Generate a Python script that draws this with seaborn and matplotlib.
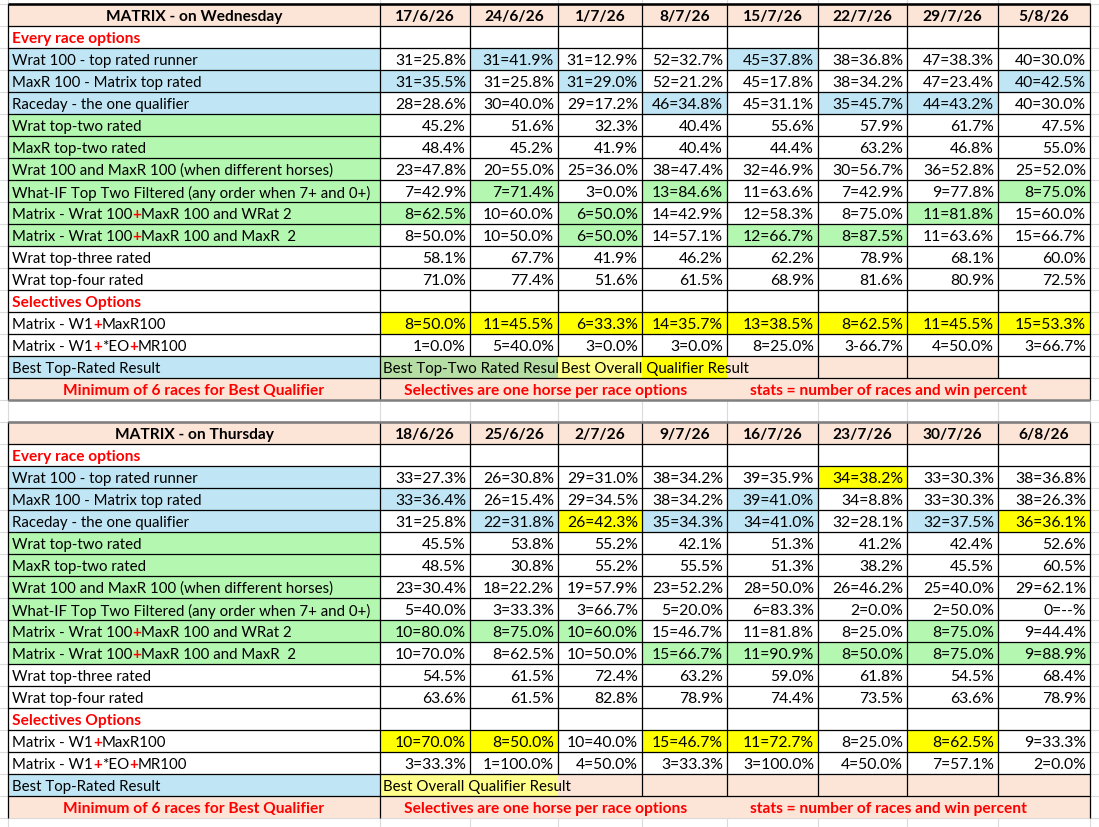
import numpy as np
import seaborn as sns
import matplotlib.pyplot as plt
from matplotlib.patches import Rectangle
from matplotlib.transforms import Bbox, TransformedBbox

# ---- data ----
wed_title = 'MATRIX - on Wednesday'
thu_title = 'MATRIX - on Thursday'
wed_dates = ['17/6/26', '24/6/26', '1/7/26', '8/7/26', '15/7/26', '22/7/26', '29/7/26', '5/8/26']
thu_dates = ['18/6/26', '25/6/26', '2/7/26', '9/7/26', '16/7/26', '23/7/26', '30/7/26', '6/8/26']

row_labels = [
    'Every race options',
    'Wrat 100 - top rated runner',
    'MaxR 100 - Matrix top rated',
    'Raceday - the one qualifier',
    'Wrat top-two rated',
    'MaxR top-two rated',
    'Wrat 100 and MaxR 100 (when different horses)',
    'What-IF Top Two Filtered (any order when 7+ and 0+)',
    'Matrix - Wrat 100+MaxR 100 and WRat 2',
    'Matrix - Wrat 100+MaxR 100 and MaxR  2',
    'Wrat top-three rated',
    'Wrat top-four rated',
    'Selectives Options',
    'Matrix - W1+MaxR100',
    'Matrix - W1+*EO+MR100',
    'Best Top-Rated Result',
]
footer_texts = ['Minimum of 6 races for Best Qualifier',
                'Selectives are one horse per race options',
                'stats = number of races and win percent']

wed_wrat100 = ['31=25.8%', '31=41.9%', '31=12.9%', '52=32.7%', '45=37.8%', '38=36.8%', '47=38.3%', '40=30.0%']
wed_maxr100 = ['31=35.5%', '31=25.8%', '31=29.0%', '52=21.2%', '45=17.8%', '38=34.2%', '47=23.4%', '40=42.5%']
wed_raceday = ['28=28.6%', '30=40.0%', '29=17.2%', '46=34.8%', '45=31.1%', '35=45.7%', '44=43.2%', '40=30.0%']
wed_wrat_top2 = ['45.2%', '51.6%', '32.3%', '40.4%', '55.6%', '57.9%', '61.7%', '47.5%']
wed_maxr_top2 = ['48.4%', '45.2%', '41.9%', '40.4%', '44.4%', '63.2%', '46.8%', '55.0%']
wed_both = ['23=47.8%', '20=55.0%', '25=36.0%', '38=47.4%', '32=46.9%', '30=56.7%', '36=52.8%', '25=52.0%']
wed_whatif = ['7=42.9%', '7=71.4%', '3=0.0%', '13=84.6%', '11=63.6%', '7=42.9%', '9=77.8%', '8=75.0%']
wed_matrix_w2 = ['8=62.5%', '10=60.0%', '6=50.0%', '14=42.9%', '12=58.3%', '8=75.0%', '11=81.8%', '15=60.0%']
wed_matrix_m2 = ['8=50.0%', '10=50.0%', '6=50.0%', '14=57.1%', '12=66.7%', '8=87.5%', '11=63.6%', '15=66.7%']
wed_wrat_top3 = ['58.1%', '67.7%', '41.9%', '46.2%', '62.2%', '78.9%', '68.1%', '60.0%']
wed_wrat_top4 = ['71.0%', '77.4%', '51.6%', '61.5%', '68.9%', '81.6%', '80.9%', '72.5%']
wed_w1_maxr = ['8=50.0%', '11=45.5%', '6=33.3%', '14=35.7%', '13=38.5%', '8=62.5%', '11=45.5%', '15=53.3%']
wed_w1_eo = ['1=0.0%', '5=40.0%', '3=0.0%', '3=0.0%', '8=25.0%', '3-66.7%', '4=50.0%', '3=66.7%']

thu_wrat100 = ['33=27.3%', '26=30.8%', '29=31.0%', '38=34.2%', '39=35.9%', '34=38.2%', '33=30.3%', '38=36.8%']
thu_maxr100 = ['33=36.4%', '26=15.4%', '29=34.5%', '38=34.2%', '39=41.0%', '34=8.8%', '33=30.3%', '38=26.3%']
thu_raceday = ['31=25.8%', '22=31.8%', '26=42.3%', '35=34.3%', '34=41.0%', '32=28.1%', '32=37.5%', '36=36.1%']
thu_wrat_top2 = ['45.5%', '53.8%', '55.2%', '42.1%', '51.3%', '41.2%', '42.4%', '52.6%']
thu_maxr_top2 = ['48.5%', '30.8%', '55.2%', '55.5%', '51.3%', '38.2%', '45.5%', '60.5%']
thu_both = ['23=30.4%', '18=22.2%', '19=57.9%', '23=52.2%', '28=50.0%', '26=46.2%', '25=40.0%', '29=62.1%']
thu_whatif = ['5=40.0%', '3=33.3%', '3=66.7%', '5=20.0%', '6=83.3%', '2=0.0%', '2=50.0%', '0=--%']
thu_matrix_w2 = ['10=80.0%', '8=75.0%', '10=60.0%', '15=46.7%', '11=81.8%', '8=25.0%', '8=75.0%', '9=44.4%']
thu_matrix_m2 = ['10=70.0%', '8=62.5%', '10=50.0%', '15=66.7%', '11=90.9%', '8=50.0%', '8=75.0%', '9=88.9%']
thu_wrat_top3 = ['54.5%', '61.5%', '72.4%', '63.2%', '59.0%', '61.8%', '54.5%', '68.4%']
thu_wrat_top4 = ['63.6%', '61.5%', '82.8%', '78.9%', '74.4%', '73.5%', '63.6%', '78.9%']
thu_w1_maxr = ['10=70.0%', '8=50.0%', '10=40.0%', '15=46.7%', '11=72.7%', '8=25.0%', '8=62.5%', '9=33.3%']
thu_w1_eo = ['3=33.3%', '1=100.0%', '4=50.0%', '3=33.3%', '3=100.0%', '4=50.0%', '7=57.1%', '2=0.0%']

wed_values = [None, wed_wrat100, wed_maxr100, wed_raceday, wed_wrat_top2, wed_maxr_top2, wed_both,
              wed_whatif, wed_matrix_w2, wed_matrix_m2, wed_wrat_top3, wed_wrat_top4, None,
              wed_w1_maxr, wed_w1_eo]
thu_values = [None, thu_wrat100, thu_maxr100, thu_raceday, thu_wrat_top2, thu_maxr_top2, thu_both,
              thu_whatif, thu_matrix_w2, thu_matrix_m2, thu_wrat_top3, thu_wrat_top4, None,
              thu_w1_maxr, thu_w1_eo]

# ---- styles ----
PEACH = '#FCE4D6'
BLUE = '#C0E6F5'
GREEN = '#B3F7B0'
BEST_GREEN = '#B5DDA4'
YELLOW = '#FFFF00'
LIGHT_YELLOW = '#FFFF8A'
RED = '#FF0000'

label_fill = {1: BLUE, 2: BLUE, 3: BLUE, 4: GREEN, 5: GREEN, 6: GREEN, 7: GREEN,
              8: GREEN, 9: GREEN, 15: BLUE}
section_rows = [0, 12]

wed_marks = {BLUE: {1: [1, 4], 2: [0, 2, 7], 3: [3, 5, 6]},
             GREEN: {7: [1, 3, 7], 8: [0, 2, 6], 9: [2, 4, 5]},
             YELLOW: {13: list(range(8))}}
thu_marks = {BLUE: {2: [0, 4], 3: [1, 3, 4, 6]},
             GREEN: {8: [0, 1, 2, 6], 9: [3, 4, 5, 6, 7]},
             YELLOW: {1: [5], 3: [2, 7], 13: [0, 1, 3, 4, 6]}}

col_edges = [8, 380, 470, 558, 642, 727, 818, 907, 998, 1090]
ROW_H = 22
FS = 10.8       # labels
FS_NUM = 11.3   # numbers
FS_BOLD = 11.2  # bold headers / red notes

sns.set_theme(style='white')
plt.rcParams['font.family'] = ['Lato', 'DejaVu Sans']
plt.rcParams['text.color'] = 'black'

fig = plt.figure(figsize=(10.99, 8.28), dpi=100)
ax = fig.add_axes([0, 0, 1, 1])
ax.set_xlim(0, 1099)
ax.set_ylim(828, 0)
ax.axis('off')

# faint spreadsheet gridlines behind everything
for y in np.arange(5, 829, ROW_H):
    ax.plot([0, 1099], [y, y], color='#DADADA', lw=0.8, zorder=0)
for x in col_edges:
    ax.plot([x, x], [0, 828], color='#DADADA', lw=0.8, zorder=0)


def fill(x0, x1, y0, color):
    ax.add_patch(Rectangle((x0, y0), x1 - x0, ROW_H, facecolor=color, edgecolor='none', zorder=1))


def hline(x0, x1, y, color='black', lw=0.9):
    ax.plot([x0, x1], [y, y], color=color, lw=lw, zorder=2, solid_capstyle='butt')


def vline(x, y0, y1, color='black', lw=0.9):
    ax.plot([x, x], [y0, y1], color=color, lw=lw, zorder=2, solid_capstyle='butt')


def rich_label(x, y, text):
    # black label with the '+' signs in red
    parts = text.split('+')
    t = ax.text(x, y, parts[0], ha='left', va='center', fontsize=FS, color='black', zorder=3)
    for p in parts[1:]:
        t = ax.annotate('+', xy=(1, 0), xycoords=t, ha='left', va='bottom',
                        fontsize=FS, color=RED, fontweight='bold', zorder=3)
        t = ax.annotate(p, xy=(1, 0), xycoords=t, ha='left', va='bottom',
                        fontsize=FS, color='black', zorder=3)


def draw_table(top, title, dates, values, marks, best):
    left, right = col_edges[0], col_edges[-1]
    # header
    fill(left, right, top, PEACH)
    ax.text((col_edges[0] + col_edges[1]) / 2, top + 12, title, ha='center', va='center',
            fontsize=FS_BOLD, fontweight='bold', zorder=3)
    for j, d in enumerate(dates):
        ax.text((col_edges[j + 1] + col_edges[j + 2]) / 2, top + 12, d, ha='center',
                va='center', fontsize=FS_BOLD, fontweight='bold', zorder=3)
    # body rows
    for i, lab in enumerate(row_labels):
        y0 = top + ROW_H * (i + 1)
        yc = y0 + 12
        if i in label_fill:
            fill(left, col_edges[1], y0, label_fill[i])
        if i in section_rows:
            ax.text(12, yc, lab, ha='left', va='center', fontsize=FS_BOLD, fontweight='bold',
                    color=RED, zorder=3)
        elif '+' in lab and lab.startswith('Matrix'):
            rich_label(12, yc, lab)
        else:
            ax.text(12, yc, lab, ha='left', va='center', fontsize=FS, zorder=3)
        if i < len(values) and values[i] is not None:
            for j, v in enumerate(values[i]):
                ax.text(col_edges[j + 2] - 4, yc, v, ha='right', va='center',
                        fontsize=FS_NUM, zorder=3)
    for color, rows in marks.items():
        for i, cols in rows.items():
            for j in cols:
                fill(col_edges[j + 1], col_edges[j + 2], top + ROW_H * (i + 1), color)

    # best-result row
    yb = top + ROW_H * 16
    for e0, e1, color in best['fills']:
        fill(col_edges[e0], col_edges[e1], yb, color)
    for text, e0, clip_to in best['texts']:
        t = ax.text(col_edges[e0] + 3, yb + 12, text, ha='left', va='center', fontsize=FS, zorder=3)
        if clip_to is not None:
            t.set_clip_box(TransformedBbox(Bbox([[col_edges[e0], yb], [col_edges[clip_to], yb + ROW_H]]),
                                           ax.transData))
            t.set_clip_on(True)

    # footer row
    yf = top + ROW_H * 17
    fill(left, right, yf, PEACH)
    ax.text((col_edges[0] + col_edges[1]) / 2, yf + 12, footer_texts[0], ha='center', va='center',
            fontsize=FS_BOLD, fontweight='bold', color=RED, zorder=3)
    ax.text(404, yf + 12, footer_texts[1], ha='left', va='center', fontsize=FS_BOLD,
            fontweight='bold', color=RED, zorder=3)
    ax.text(750, yf + 12, footer_texts[2], ha='left', va='center', fontsize=FS_BOLD,
            fontweight='bold', color=RED, zorder=3)

    # borders
    bottom_data = top + ROW_H * 16
    for k in range(18):
        hline(left, right, top + ROW_H * k)
    for x in col_edges[2:-1]:
        vline(x, top, bottom_data)
    for e in best['vlines']:
        vline(col_edges[e], yb, yb + ROW_H)
    vline(left, top, yf + ROW_H)
    vline(right, top, yf + ROW_H)
    vline(col_edges[1], top, yf + ROW_H)


wed_best = {'fills': [(1, 3, BEST_GREEN), (3, 4, LIGHT_YELLOW), (4, 5, YELLOW), (5, 8, PEACH)],
            'texts': [('Best Top-Two Rated Result', 1, 3), ('Best Overall Qualifier Result', 3, None)],
            'vlines': [6, 7, 8]}
thu_best = {'fills': [(1, 3, LIGHT_YELLOW), (3, 9, PEACH)],
            'texts': [('Best Overall Qualifier Result', 1, None)],
            'vlines': [4, 5, 6, 7, 8]}

draw_table(5, wed_title, wed_dates, wed_values, wed_marks, wed_best)
draw_table(423, thu_title, thu_dates, thu_values, thu_marks, thu_best)

# heavier outer edges
hline(8, 1090, 5, lw=1.8)
hline(8, 1090, 401, color='#808080', lw=1.8)
hline(8, 1090, 423, color='#808080', lw=1.8)

fig.savefig('out.png', dpi=100, facecolor='white')
